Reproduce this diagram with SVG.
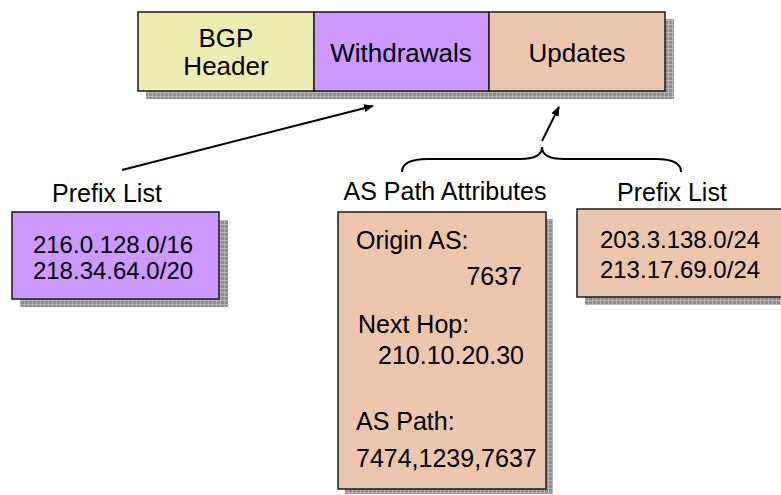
<svg xmlns="http://www.w3.org/2000/svg" width="781" height="495" viewBox="0 0 781 495">
  <defs>
    <pattern id="grid" width="4" height="4" patternUnits="userSpaceOnUse">
      <rect width="4" height="4" fill="#8e8e8e"/>
      <path d="M0,0.5H4M0.5,0V4" stroke="#b4b4b4" stroke-width="1"/>
    </pattern>
    <marker id="arrow" viewBox="0 0 10 10" refX="9" refY="5" markerWidth="10" markerHeight="10" markerUnits="userSpaceOnUse" orient="auto">
      <path d="M0,1 L10,5 L0,9 Z" fill="#000"/>
    </marker>
  </defs>
  <style>
    text { font-family: "Liberation Sans", Arial, sans-serif; font-size: 25px; fill: #000; }
    .mid { text-anchor: middle; }
    .big { font-size: 26px; }
    .num { font-size: 24px; }
    .shadow { fill: url(#grid); }
    .box { stroke: #1a1a1a; stroke-width: 1.5; }
    .yellow { fill: #EEEDB1; }
    .purple { fill: #CC99FF; }
    .peach { fill: #EBC6AD; }
    .conn { fill: none; stroke: #000; stroke-width: 2; }
  </style>
  <rect width="781" height="495" fill="#fff"/>

  <g id="bgp-message">
    <rect class="shadow" x="146" y="19" width="528" height="80"/>
    <rect class="box yellow" x="138" y="12" width="176" height="79"/>
    <rect class="box purple" x="314" y="12" width="175" height="79"/>
    <rect class="box peach" x="489" y="12" width="176" height="79"/>
    <text class="mid big" x="226" y="47">BGP</text>
    <text class="mid big" x="226" y="75">Header</text>
    <text class="mid big" x="401" y="62">Withdrawals</text>
    <text class="mid big" x="577" y="62">Updates</text>
  </g>

  <g id="withdrawn-prefix-list">
    <text class="mid" x="107" y="202">Prefix List</text>
    <rect class="shadow" x="20" y="220" width="208" height="87"/>
    <rect class="box purple" x="12" y="212" width="207" height="87"/>
    <text class="mid num" x="113" y="253">216.0.128.0/16</text>
    <text class="mid num" x="113" y="279">218.34.64.0/20</text>
  </g>

  <g id="as-path-attributes">
    <text class="mid" x="445" y="200">AS Path Attributes</text>
    <rect class="shadow" x="345" y="219" width="208" height="275"/>
    <rect class="box peach" x="338" y="212" width="208" height="277"/>
    <text x="356" y="249">Origin AS:</text>
    <text x="522" y="285" text-anchor="end">7637</text>
    <text x="358" y="333">Next Hop:</text>
    <text x="378" y="364">210.10.20.30</text>
    <text x="356" y="430">AS Path:</text>
    <text x="356" y="467">7474,1239,7637</text>
  </g>

  <g id="update-prefix-list">
    <text class="mid" x="672" y="201">Prefix List</text>
    <rect class="shadow" x="585" y="217" width="200" height="88"/>
    <rect class="box peach" x="577" y="209" width="210" height="88"/>
    <text class="mid num" x="680" y="248">203.3.138.0/24</text>
    <text class="mid num" x="680" y="278">213.17.69.0/24</text>
  </g>

  <g id="connectors">
    <line class="conn" x1="122" y1="170" x2="373" y2="106" marker-end="url(#arrow)"/>
    <path class="conn" d="M402,172 C402,163 412,159 428,159 L520,159 C535,159 542,155 542,147 C542,155 549,159 564,159 L656,159 C672,159 681,163 681,172"/>
    <line class="conn" x1="542" y1="141" x2="559" y2="107" marker-end="url(#arrow)"/>
  </g>
</svg>
